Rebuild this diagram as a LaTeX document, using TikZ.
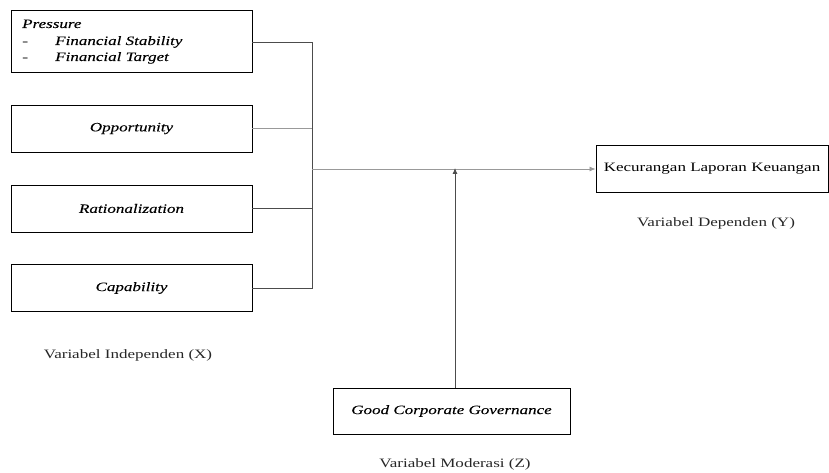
\documentclass[tikz,border=0pt]{standalone}
\usepackage{fontspec}
\setmainfont{Liberation Serif}
\newfontfamily\boxfont[FakeBold=0.05]{Liberation Serif}
\usetikzlibrary{arrows.meta}
\newcommand{\sxx}[1]{\scalebox{1.33}[1]{#1}}
\begin{document}
\begin{tikzpicture}[x=1pt,y=-1pt,
  box/.style={draw=black,line width=0.9pt},
  conn/.style={draw=black!70,line width=0.8pt},
  connl/.style={draw=black!40,line width=0.8pt},
  arr/.style={-{Latex[length=6pt,width=5pt]}},
  lbl/.style={font=\fontsize{12.8}{14}\selectfont,inner sep=0pt,text=black!85},
  boxtxt/.style={font=\fontsize{12.8}{14}\selectfont\boxfont\itshape,inner sep=0pt},
  bx/.style={box,minimum width=241pt,minimum height=47pt,inner sep=0pt,font=\fontsize{12.8}{14}\selectfont\boxfont\itshape}]
\useasboundingbox (0,0) rectangle (829,473);
% boxes
\draw[box] (11,10) rectangle (252,72);
\node[boxtxt,anchor=base west] (p1) at (22,28) {\sxx{Pressure}};
\node[boxtxt,anchor=base west] (p2) at (22,45) {\sxx{-}};
\node[boxtxt,anchor=base west] (p3) at (55,45) {\sxx{Financial Stability}};
\node[boxtxt,anchor=base west] (p4) at (22,61) {\sxx{-}};
\node[boxtxt,anchor=base west] (p5) at (55,61) {\sxx{Financial Target}};
\coordinate (b1) at (252,42);
\node[bx] (b2) at (131.5,128.5) {\sxx{Opportunity}};
\node[bx] (b3) at (131.5,208.5) {\sxx{Rationalization}};
\node[bx] (b4) at (131.5,288) {\sxx{Capability}};
\node[bx,minimum width=232pt,font=\fontsize{12.8}{14}\selectfont] (y) at (712,168.5) {\sxx{Kecurangan Laporan Keuangan}};
\node[bx,minimum width=237pt,minimum height=46pt] (z) at (451.5,411) {\sxx{Good Corporate Governance}};
% labels
\node[lbl,anchor=base] (lx) at (128,358) {\sxx{Variabel Independen (X)}};
\node[lbl,anchor=base] (ly) at (716,226) {\sxx{Variabel Dependen (Y)}};
\node[lbl,anchor=base] (lz) at (455,467) {\sxx{Variabel Moderasi (Z)}};
% connectors
\coordinate (bt) at (312,42);
\coordinate (bb) at (312,288);
\coordinate (bm) at (312,169);
\coordinate (mz) at (455,169);
\draw[conn] (b1) -- (bt) -- (bb) -- (b4.east);
\draw[connl] (b2.east) -- (b2.east -| bt);
\draw[conn] (b3.east) -- (b3.east -| bt);
\draw[connl,arr] (bm) -- (y.west |- bm);
\draw[conn,arr] (z.north -| mz) -- ([yshift=1pt]mz);
\end{tikzpicture}
\end{document}
